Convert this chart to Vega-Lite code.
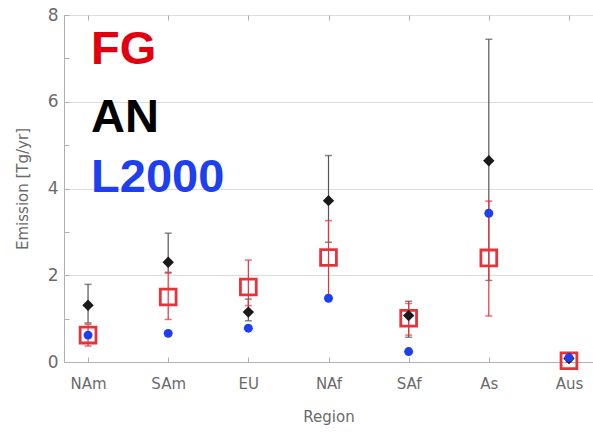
{
  "$schema": "https://vega.github.io/schema/vega-lite/v6.json",
  "width": 529,
  "height": 347,
  "autosize": {"type": "none"},
  "padding": {"left": 64, "top": 15, "right": 0, "bottom": 73},
  "background": "white",
  "config": {
    "view": {"stroke": "#d0d0d0", "strokeWidth": 1},
    "axis": {"labelFont": "DejaVu Sans", "titleFont": "DejaVu Sans", "labelColor": "#6a6a6a", "titleColor": "#6a6a6a", "domainColor": "#b0b0b0", "tickColor": "#b0b0b0", "titleFontWeight": "normal"}
  },
  "datasets": {
    "pts": [
      {"region": "NAm", "series": "FG", "value": 0.62, "lo": 0.37, "hi": 0.87},
      {"region": "SAm", "series": "FG", "value": 1.5, "lo": 0.98, "hi": 2.07},
      {"region": "EU", "series": "FG", "value": 1.73, "lo": 1.3, "hi": 2.35},
      {"region": "NAf", "series": "FG", "value": 2.41, "lo": 1.47, "hi": 3.26},
      {"region": "SAf", "series": "FG", "value": 1.01, "lo": 0.62, "hi": 1.35},
      {"region": "As", "series": "FG", "value": 2.4, "lo": 1.06, "hi": 3.71},
      {"region": "Aus", "series": "FG", "value": 0.03, "lo": 0.0, "hi": 0.06},
      {"region": "NAm", "series": "AN", "value": 1.31, "lo": 0.9, "hi": 1.79},
      {"region": "SAm", "series": "AN", "value": 2.3, "lo": 2.05, "hi": 2.97},
      {"region": "EU", "series": "AN", "value": 1.15, "lo": 0.95, "hi": 1.45},
      {"region": "NAf", "series": "AN", "value": 3.72, "lo": 2.76, "hi": 4.76},
      {"region": "SAf", "series": "AN", "value": 1.07, "lo": 0.57, "hi": 1.4},
      {"region": "As", "series": "AN", "value": 4.64, "lo": 1.88, "hi": 7.44},
      {"region": "Aus", "series": "AN", "value": 0.08, "lo": 0.05, "hi": 0.1},
      {"region": "NAm", "series": "L2000", "value": 0.62},
      {"region": "SAm", "series": "L2000", "value": 0.66},
      {"region": "EU", "series": "L2000", "value": 0.78},
      {"region": "NAf", "series": "L2000", "value": 1.47},
      {"region": "SAf", "series": "L2000", "value": 0.24},
      {"region": "As", "series": "L2000", "value": 3.43},
      {"region": "Aus", "series": "L2000", "value": 0.1}
    ],
    "labels": [
      {"region": "NAm", "series": "FG", "value": 6.87},
      {"region": "NAm", "series": "AN", "value": 5.31},
      {"region": "NAm", "series": "L2000", "value": 3.91}
    ]
  },
  "data": {"name": "pts"},
  "resolve": {"axis": {"x": "independent"}},
  "layer": [
    {
      "transform": [{"filter": "datum.series === 'AN'"}],
      "mark": {"type": "rule", "color": "#555555", "strokeWidth": 1.2},
      "encoding": {
        "x": {"field": "region", "type": "ordinal", "scale": {"domain": ["NAm", "SAm", "EU", "NAf", "SAf", "As", "Aus"]}, "axis": null},
        "y": {"field": "lo", "type": "quantitative"},
        "y2": {"field": "hi"}
      }
    },
    {
      "transform": [{"filter": "datum.series === 'AN'"}],
      "mark": {"type": "tick", "color": "#555555", "size": 7, "thickness": 1.5, "orient": "horizontal"},
      "encoding": {
        "x": {"field": "region", "type": "ordinal", "scale": {"domain": ["NAm", "SAm", "EU", "NAf", "SAf", "As", "Aus"]}, "axis": null},
        "y": {"field": "hi", "type": "quantitative"}
      }
    },
    {
      "transform": [{"filter": "datum.series === 'AN'"}],
      "mark": {"type": "tick", "color": "#555555", "size": 7, "thickness": 1.5, "orient": "horizontal"},
      "encoding": {
        "x": {"field": "region", "type": "ordinal", "scale": {"domain": ["NAm", "SAm", "EU", "NAf", "SAf", "As", "Aus"]}, "axis": null},
        "y": {"field": "lo", "type": "quantitative"}
      }
    },
    {
      "transform": [{"filter": "datum.series === 'FG'"}],
      "mark": {"type": "rule", "color": "#e8323a", "strokeWidth": 1.2},
      "encoding": {
        "x": {"field": "region", "type": "ordinal", "scale": {"domain": ["NAm", "SAm", "EU", "NAf", "SAf", "As", "Aus"]}, "axis": null},
        "y": {"field": "lo", "type": "quantitative"},
        "y2": {"field": "hi"}
      }
    },
    {
      "transform": [{"filter": "datum.series === 'FG'"}],
      "mark": {"type": "tick", "color": "#e8323a", "size": 7, "thickness": 1.5, "orient": "horizontal"},
      "encoding": {
        "x": {"field": "region", "type": "ordinal", "scale": {"domain": ["NAm", "SAm", "EU", "NAf", "SAf", "As", "Aus"]}, "axis": null},
        "y": {"field": "hi", "type": "quantitative"}
      }
    },
    {
      "transform": [{"filter": "datum.series === 'FG'"}],
      "mark": {"type": "tick", "color": "#e8323a", "size": 7, "thickness": 1.5, "orient": "horizontal"},
      "encoding": {
        "x": {"field": "region", "type": "ordinal", "scale": {"domain": ["NAm", "SAm", "EU", "NAf", "SAf", "As", "Aus"]}, "axis": null},
        "y": {"field": "lo", "type": "quantitative"}
      }
    },
    {
      "transform": [{"filter": "datum.series === 'FG'"}],
      "mark": {"type": "point", "shape": "square", "filled": false, "stroke": "#e8323a", "strokeWidth": 2.8, "size": 250, "opacity": 1},
      "encoding": {
        "x": {"field": "region", "type": "ordinal", "scale": {"domain": ["NAm", "SAm", "EU", "NAf", "SAf", "As", "Aus"]}, "axis": null},
        "y": {"field": "value", "type": "quantitative"}
      }
    },
    {
      "transform": [{"filter": "datum.series === 'AN'"}],
      "mark": {"type": "point", "shape": "diamond", "filled": true, "color": "#1a1a1a", "size": 130, "opacity": 1},
      "encoding": {
        "x": {"field": "region", "type": "ordinal", "scale": {"domain": ["NAm", "SAm", "EU", "NAf", "SAf", "As", "Aus"]}, "axis": null},
        "y": {"field": "value", "type": "quantitative"}
      }
    },
    {
      "transform": [{"filter": "datum.series === 'L2000'"}],
      "mark": {"type": "circle", "color": "#1e3ff0", "size": 80, "opacity": 1},
      "encoding": {
        "x": {
          "field": "region", "type": "ordinal",
          "scale": {"type": "point", "padding": 0.3, "domain": ["NAm", "SAm", "EU", "NAf", "SAf", "As", "Aus"]},
          "axis": {"orient": "bottom", "title": "Region", "labelFontSize": 15, "titleFontSize": 15, "labelAngle": 0, "labelPadding": 19, "titlePadding": 18, "tickSize": -5, "domain": true}
        },
        "y": {
          "field": "value", "type": "quantitative",
          "scale": {"domain": [0, 8], "nice": false, "zero": true},
          "axis": {
            "title": "Emission [Tg/yr]",
            "values": [0, 0.5, 1, 1.5, 2, 2.5, 3, 3.5, 4, 4.5, 5, 5.5, 6, 6.5, 7, 7.5, 8],
            "labelExpr": "datum.value % 2 === 0 ? datum.label : ''",
            "format": "d",
            "labelFontSize": 17,
            "titleFontSize": 15,
            "labelPadding": 11,
            "titlePadding": 17,
            "tickSize": -5,
            "grid": true,
            "gridColor": "#dcdcdc",
            "gridOpacity": {"condition": {"test": "datum.value % 2 === 0", "value": 1}, "value": 0}
          }
        }
      }
    },
    {
      "data": {"name": "labels"},
      "mark": {"type": "text", "align": "left", "baseline": "alphabetic", "dx": 3, "font": "Liberation Sans", "fontWeight": "bold", "fontSize": 47},
      "encoding": {
        "x": {"field": "region", "type": "ordinal", "scale": {"domain": ["NAm", "SAm", "EU", "NAf", "SAf", "As", "Aus"]}, "axis": {"orient": "top", "labels": false, "title": null, "domain": false, "tickSize": -5, "ticks": true}},
        "y": {"field": "value", "type": "quantitative"},
        "text": {"field": "series"},
        "color": {"field": "series", "type": "nominal", "scale": {"domain": ["FG", "AN", "L2000"], "range": ["#e00010", "#000000", "#1e3ff0"]}, "legend": null}
      }
    }
  ]
}
